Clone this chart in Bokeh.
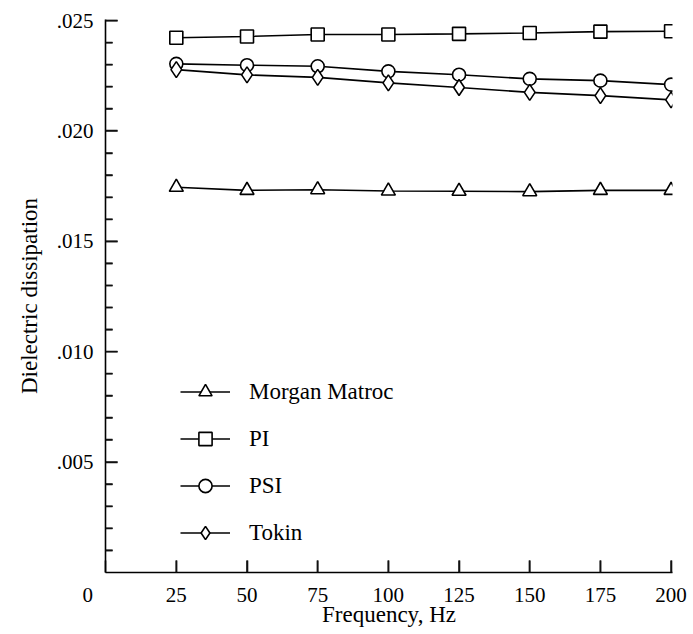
import numpy as np
from bokeh.plotting import figure
from bokeh.models import Range1d, FixedTicker, Legend, LegendItem
from bokeh.embed import file_html
from bokeh.resources import INLINE

# ---- data ----
freq = [25, 50, 75, 100, 125, 150, 175, 200]
morgan_matroc = [0.01745, 0.01731, 0.01734, 0.01728, 0.01727, 0.01725, 0.01731, 0.01731]
pi_vals = [0.02422, 0.02428, 0.02437, 0.02437, 0.02440, 0.02444, 0.02450, 0.02452]
psi_vals = [0.02304, 0.02298, 0.02293, 0.02270, 0.02255, 0.02236, 0.02228, 0.02210]
tokin_vals = [0.02278, 0.02254, 0.02243, 0.02218, 0.02197, 0.02175, 0.02160, 0.02141]
series_names = ["Morgan Matroc", "PI", "PSI", "Tokin"]

# ---- ticks ----
x_label_ticks = [0, 25, 50, 75, 100, 125, 150, 175, 200]
x_tick_labels = ["0\u2003\u2002\u2009", "25", "50", "75", "100", "125", "150", "175", "200"]
x_tick_marks = [25, 50, 75, 100, 125, 150, 175, 200]
y_major_ticks = [0.005, 0.010, 0.015, 0.020, 0.025]
y_tick_labels = [".005", ".010", ".015", ".020", ".025"]
y_minor_ticks = [0.001, 0.002, 0.003, 0.004, 0.006, 0.007, 0.008, 0.009,
                 0.011, 0.012, 0.013, 0.014, 0.016, 0.017, 0.018, 0.019,
                 0.021, 0.022, 0.023, 0.024]

FONT = "Liberation Serif"
TW = 1.6

p = figure(width=693, height=634, output_backend="svg", toolbar_location=None,
           x_range=Range1d(-0.05, 200.5), y_range=Range1d(-0.000004, 0.02505),
           min_border_left=105, min_border_right=21, min_border_top=19,
           min_border_bottom=62)
p.outline_line_color = None
p.xgrid.visible = False
p.ygrid.visible = False

xa = p.xaxis[0]
xa.ticker = FixedTicker(ticks=x_label_ticks, minor_ticks=[])
xa.major_label_overrides = dict(zip(x_label_ticks, x_tick_labels))
xa.major_tick_in = 12
xa.major_tick_out = 0
xa.minor_tick_in = 0
xa.minor_tick_out = 0
xa.major_label_standoff = 10
xa.axis_label = "Frequency, Hz"
xa.axis_label_standoff = -8

ya = p.yaxis[0]
ya.ticker = FixedTicker(ticks=y_major_ticks, minor_ticks=y_minor_ticks)
ya.major_label_overrides = dict(zip(y_major_ticks, y_tick_labels))
ya.major_tick_in = 12
ya.major_tick_out = 0
ya.minor_tick_in = 7
ya.minor_tick_out = 0
ya.major_label_standoff = 12
ya.axis_label = "Dielectric dissipation"
ya.axis_label_standoff = 12

for ax in (xa, ya):
    ax.axis_line_width = 1.6
    ax.major_tick_line_width = TW
    ax.minor_tick_line_width = TW
    ax.major_tick_line_color = "#111111"
    ax.minor_tick_line_color = "#111111"
    ax.major_label_text_font = FONT
    ax.major_label_text_font_size = "21px"
    ax.major_label_text_color = "black"
    ax.axis_label_text_font = FONT
    ax.axis_label_text_font_size = "23px"
    ax.axis_label_text_font_style = "normal"
    ax.axis_label_text_color = "black"

# inward tick marks also drawn as short screen-length rays starting on the axes
p.ray(x=[0] * len(y_major_ticks), y=y_major_ticks, length=12, length_units="screen",
      angle=0, line_color="#111111", line_width=TW)
p.ray(x=[0] * len(y_minor_ticks), y=y_minor_ticks, length=7, length_units="screen",
      angle=0, line_color="#111111", line_width=TW)
p.ray(x=x_tick_marks, y=[0] * len(x_tick_marks), length=12, length_units="screen",
      angle=np.pi / 2, line_color="#111111", line_width=TW)

LW = 1.6
items = []
specs = [
    (morgan_matroc, "triangle", 14),
    (pi_vals, "square", 13),
    (psi_vals, "circle", 13),
    (tokin_vals, "diamond", 16),
]
for name, (vals, marker, size) in zip(series_names, specs):
    ln = p.line(freq, vals, line_color="black", line_width=LW)
    sc = p.scatter(freq, vals, marker=marker, size=size,
                   fill_color="white", line_color="black", line_width=LW)
    items.append(LegendItem(label=name, renderers=[ln, sc]))

legend = Legend(items=items, location=(75, 23), padding=0, margin=0,
                glyph_width=50, glyph_height=33, label_height=33,
                label_standoff=19, spacing=14,
                border_line_color=None, background_fill_alpha=0,
                label_text_font=FONT, label_text_font_size="23px",
                label_text_color="black")
p.add_layout(legend)

open("out.html", "w").write(file_html(p, INLINE))
